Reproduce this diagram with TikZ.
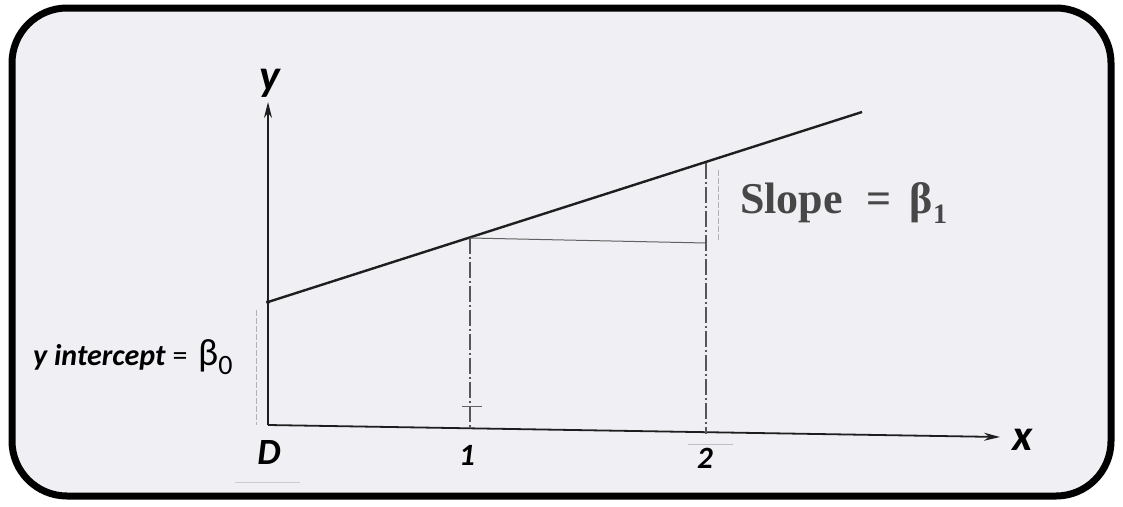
\documentclass[tikz,border=0pt]{standalone}
\usepackage{fontspec}
\setmainfont{Carlito}
\newfontfamily\slopefont{Liberation Serif}
\usetikzlibrary{arrows.meta}
\definecolor{bgfill}{HTML}{F0EFF3}
\definecolor{inkc}{HTML}{1E1E1E}
\tikzset{
  frame/.style={line width=7pt, draw=black, fill=bgfill, rounded corners=55pt},
  axis/.style={line width=1.8pt, draw=inkc, -{Stealth[length=16pt,width=8pt]}},
  mainline/.style={line width=2.4pt, draw=inkc},
  guide/.style={line width=1.2pt, draw=inkc!75, dash pattern=on 16pt off 3pt on 2pt off 3pt},
  thin/.style={line width=1pt, draw=inkc!70},
  faint/.style={line width=0.8pt, draw=gray!60, dash pattern=on 6pt off 2pt},
  axlab/.style={font=\fontsize{44}{44}\selectfont\bfseries\itshape, text=black, inner sep=0pt, anchor=base},
  dlabst/.style={font=\fontsize{37}{37}\selectfont\bfseries\itshape, text=black, inner sep=0pt, anchor=base},
  ticklab/.style={font=\fontsize{31}{31}\selectfont\bfseries\itshape, text=black, inner sep=0pt, anchor=base},
}
\begin{document}
\begin{tikzpicture}[x=1pt,y=-1pt]
\useasboundingbox (0,0) rectangle (1123,506);
\fill[white] (0,0) rectangle (1123,506);
\draw[frame] (12,8) rectangle (1111,496);
% coordinates
\coordinate (O) at (268,425);
\coordinate (ytop) at (268,102);
\coordinate (xend) at (1000,437);
\coordinate (L0) at (268,302);
\coordinate (L1) at (862,112);
\coordinate (P1) at (470,238);
\coordinate (P2) at (706,163);
\coordinate (H2) at (706,243);
\coordinate (B1) at (470,428);
\coordinate (B2) at (706,434);
% axes
\draw[axis] (O) -- (ytop);
\draw[axis] (O) -- (xend);
% regression line
\draw[mainline] (L0) -- (L1);
\fill[inkc] (L0) circle (2pt);
% guides
\draw[thin] (P1) -- (H2);
\draw[guide] (P1) -- (B1);
\draw[guide] (P2) -- (B2);
\draw[thin] (462,406) -- (482,406);
\draw[faint] (718,170) -- (718,240);
\draw[faint] (256,310) -- (256,425);
\draw[line width=0.8pt, draw=gray!50] (688,444) -- (733,444);
\draw[line width=0.8pt, draw=gray!40] (235,482) -- (300,482);
% labels
\node[axlab] (ylab) at (270,90) {y};
\node[axlab, anchor=base west] (xlab) at (1012,450) {x};
\node[dlabst] (dlab) at (269,464) {D};
\node[ticklab] (one) at (467,465) {1};
\node[ticklab] (two) at (705,468) {2};
\node[anchor=base west, inner sep=0pt, text=black!72, font=\fontsize{44}{44}\selectfont\slopefont\bfseries] (slope) at (740,213) {Slope\hspace{24pt}=\hspace{18pt}β\raisebox{-10pt}{\fontsize{28}{28}\selectfont 1}};
\node[anchor=base west, inner sep=0pt, font=\fontsize{30}{30}\selectfont] (icpt) at (33,365) {\textbf{\textit{y intercept}} = \hspace{4pt}{\fontsize{38}{38}\selectfont β}\raisebox{-9pt}{\fontsize{28}{28}\selectfont 0}};
\end{tikzpicture}
\end{document}
